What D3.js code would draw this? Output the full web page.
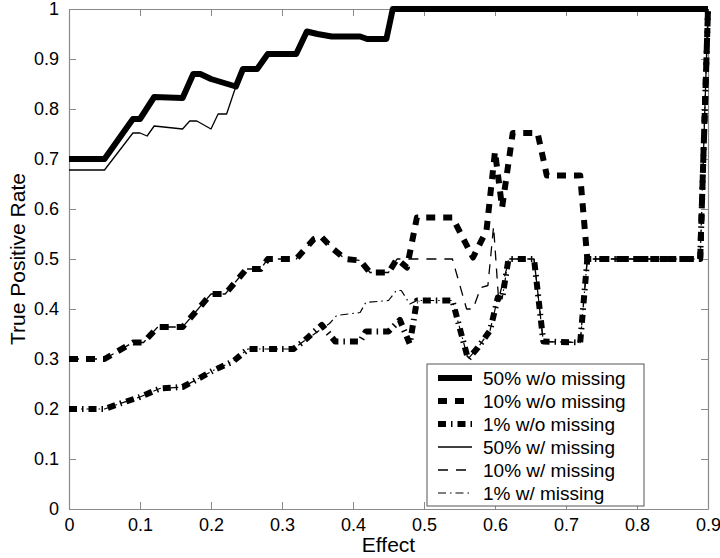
<!DOCTYPE html>
<html>
<head>
<meta charset="utf-8">
<script src="https://cdn.jsdelivr.net/npm/d3@7"></script>
<style>
    body { margin: 0; background: #fff; }
    svg text { font-family: "Liberation Sans", Arial, sans-serif; }
</style>
</head>
<body>
<script>
(function()
{
    // series values, [effect, rate]
    var s50wo = [[0,0.70],[0.05,0.70],[0.09,0.78],[0.10,0.78],[0.12,0.824],[0.16,0.822],[0.175,0.87],[0.185,0.87],
        [0.20,0.86],[0.235,0.845],[0.245,0.88],[0.265,0.88],[0.28,0.91],[0.32,0.91],[0.335,0.955],[0.35,0.95],
        [0.37,0.945],[0.41,0.945],[0.42,0.94],[0.447,0.94],[0.456,1.0],[0.9,1.0]];
    var s10wo = [[0,0.30],[0.05,0.30],[0.09,0.333],[0.105,0.333],[0.125,0.364],[0.16,0.364],[0.2,0.43],[0.22,0.43],
        [0.25,0.48],[0.27,0.48],[0.28,0.50],[0.32,0.50],[0.345,0.54],[0.355,0.545],[0.372,0.52],[0.389,0.50],
        [0.41,0.497],[0.424,0.473],[0.45,0.473],[0.462,0.50],[0.476,0.483],[0.49,0.583],[0.54,0.583],[0.569,0.503],
        [0.588,0.557],[0.60,0.715],[0.61,0.603],[0.625,0.752],[0.66,0.752],[0.673,0.667],[0.72,0.667],[0.73,0.50],
        [0.889,0.50],[0.90,1.0]];
    var s1wo = [[0,0.20],[0.05,0.20],[0.072,0.211],[0.10,0.224],[0.128,0.241],[0.16,0.244],[0.18,0.259],[0.203,0.277],
        [0.231,0.295],[0.252,0.32],[0.316,0.32],[0.33,0.335],[0.356,0.368],[0.375,0.335],[0.41,0.335],[0.418,0.355],
        [0.45,0.355],[0.466,0.378],[0.48,0.33],[0.49,0.417],[0.54,0.417],[0.555,0.337],[0.562,0.30],[0.576,0.323],
        [0.593,0.357],[0.604,0.423],[0.61,0.42],[0.619,0.50],[0.655,0.50],[0.668,0.335],[0.72,0.333],[0.73,0.50],
        [0.889,0.50],[0.90,1.0]];
    var s50w = [[0,0.678],[0.05,0.678],[0.09,0.752],[0.10,0.752],[0.11,0.746],[0.12,0.766],[0.16,0.76],[0.17,0.776],
        [0.18,0.776],[0.20,0.76],[0.21,0.79],[0.222,0.79],[0.235,0.845],[0.245,0.88],[0.265,0.88],[0.28,0.91],
        [0.32,0.91],[0.335,0.955],[0.35,0.95],[0.37,0.945],[0.41,0.945],[0.42,0.94],[0.447,0.94],[0.456,1.0],[0.9,1.0]];
    var s10w = [[0,0.30],[0.05,0.30],[0.09,0.333],[0.105,0.333],[0.125,0.364],[0.16,0.364],[0.2,0.43],[0.22,0.43],
        [0.25,0.48],[0.27,0.48],[0.28,0.50],[0.32,0.50],[0.345,0.54],[0.355,0.545],[0.372,0.52],[0.389,0.50],
        [0.41,0.497],[0.424,0.473],[0.45,0.473],[0.462,0.50],[0.54,0.50],[0.55,0.45],[0.56,0.40],[0.569,0.40],
        [0.58,0.443],[0.59,0.447],[0.598,0.565],[0.605,0.42],[0.62,0.50],[0.655,0.50],[0.668,0.335],[0.72,0.333],
        [0.73,0.50],[0.889,0.50],[0.90,1.0]];
    var s1w = [[0,0.20],[0.05,0.20],[0.072,0.211],[0.10,0.224],[0.128,0.241],[0.16,0.244],[0.18,0.259],[0.203,0.277],
        [0.231,0.295],[0.252,0.32],[0.316,0.32],[0.33,0.335],[0.367,0.371],[0.377,0.387],[0.41,0.393],[0.418,0.413],
        [0.45,0.417],[0.461,0.437],[0.468,0.437],[0.48,0.41],[0.49,0.417],[0.54,0.417],[0.555,0.337],[0.562,0.30],
        [0.576,0.323],[0.593,0.357],[0.604,0.423],[0.61,0.42],[0.619,0.50],[0.655,0.50],[0.668,0.335],[0.72,0.333],
        [0.73,0.50],[0.889,0.50],[0.90,1.0]];

    var names = ["50% w/o missing", "10% w/o missing", "1% w/o missing",
                 "50% w/ missing", "10% w/ missing", "1% w/ missing"];
    var xTicks = [0, 0.1, 0.2, 0.3, 0.4, 0.5, 0.6, 0.7, 0.8, 0.9];
    var yTicks = [0, 0.1, 0.2, 0.3, 0.4, 0.5, 0.6, 0.7, 0.8, 0.9, 1];

    // stroke width and dash pattern for each series, same order as names
    var styles = [
        { w: 6, dash: null },
        { w: 6, dash: "9,8" },
        { w: 6, dash: "8,5,1.5,5" },
        { w: 1.3, dash: null },
        { w: 1.3, dash: "10,8" },
        { w: 1.2, dash: "8,4,1.5,4" }
    ];

    var w = 720, h = 558;
    var left = 69, right = 708, top = 9, bottom = 509;
    var axisColor = "#8a8a8a";

    var svg = d3.select("body").append("svg")
        .attr("width", w)
        .attr("height", h);

    var x = d3.scaleLinear().domain([0, 0.9]).range([left, right]);
    var y = d3.scaleLinear().domain([0, 1]).range([bottom, top]);
    var fmt = d3.format("~g");

    var styleAxis = function(g) {
        g.select(".domain").attr("stroke", axisColor).attr("stroke-width", 1.2);
        g.selectAll(".tick line").attr("stroke", axisColor).attr("stroke-width", 1);
        g.selectAll(".tick text").attr("fill", "#000").attr("font-size", "18px")
            .attr("font-family", "'Liberation Sans', Arial, sans-serif");
    };

    svg.append("g")
        .attr("transform", "translate(0," + bottom + ")")
        .call(d3.axisBottom(x).tickValues(xTicks).tickFormat(fmt).tickSizeInner(-7).tickSizeOuter(0).tickPadding(9))
        .call(styleAxis);
    svg.append("g")
        .attr("transform", "translate(" + left + ",0)")
        .call(d3.axisLeft(y).tickValues(yTicks).tickFormat(fmt).tickSizeInner(-7).tickSizeOuter(0).tickPadding(10))
        .call(styleAxis);
    svg.append("g")
        .attr("transform", "translate(0," + top + ")")
        .call(d3.axisTop(x).tickValues(xTicks).tickFormat("").tickSizeInner(-7).tickSizeOuter(0))
        .call(styleAxis);
    svg.append("g")
        .attr("transform", "translate(" + right + ",0)")
        .call(d3.axisRight(y).tickValues(yTicks).tickFormat("").tickSizeInner(-7).tickSizeOuter(0))
        .call(styleAxis);

    var line = d3.line()
        .x(function(d) { return x(d[0]); })
        .y(function(d) { return y(d[1]); });

    var series = [s50wo, s10wo, s1wo, s50w, s10w, s1w];

    svg.append("g").selectAll("path")
        .data(series)
        .enter()
        .append("path")
        .attr("d", line)
        .attr("fill", "none")
        .attr("stroke", "#000")
        .attr("stroke-linejoin", "round")
        .attr("stroke-width", function(d, i) { return styles[i].w; })
        .attr("stroke-dasharray", function(d, i) { return styles[i].dash; });

    // axis titles
    svg.append("text")
        .attr("x", (left + right) / 2)
        .attr("y", 552)
        .attr("text-anchor", "middle")
        .attr("font-size", "21px")
        .text("Effect");
    svg.append("text")
        .attr("transform", "translate(18," + ((top + bottom) / 2) + ") rotate(-90)")
        .attr("text-anchor", "middle")
        .attr("dy", "0.35em")
        .attr("font-size", "21px")
        .text("True Positive Rate");

    // legend
    var lg = svg.append("g").attr("transform", "translate(427,364)");
    lg.append("rect")
        .attr("width", 217)
        .attr("height", 142)
        .attr("fill", "#fff")
        .attr("stroke", "#555")
        .attr("stroke-width", 1);

    var rows = lg.selectAll("g.row")
        .data(names)
        .enter()
        .append("g")
        .attr("class", "row")
        .attr("transform", function(d, i) { return "translate(0," + (14 + i * 23) + ")"; });
    rows.append("line")
        .attr("x1", 11)
        .attr("x2", 45)
        .attr("stroke", "#000")
        .attr("stroke-width", function(d, i) { return styles[i].w; })
        .attr("stroke-dasharray", function(d, i) { return styles[i].dash; });
    rows.append("text")
        .attr("x", 56)
        .attr("dy", "0.36em")
        .attr("font-size", "19px")
        .text(function(d) { return d; });
})();
</script>
</body>
</html>
